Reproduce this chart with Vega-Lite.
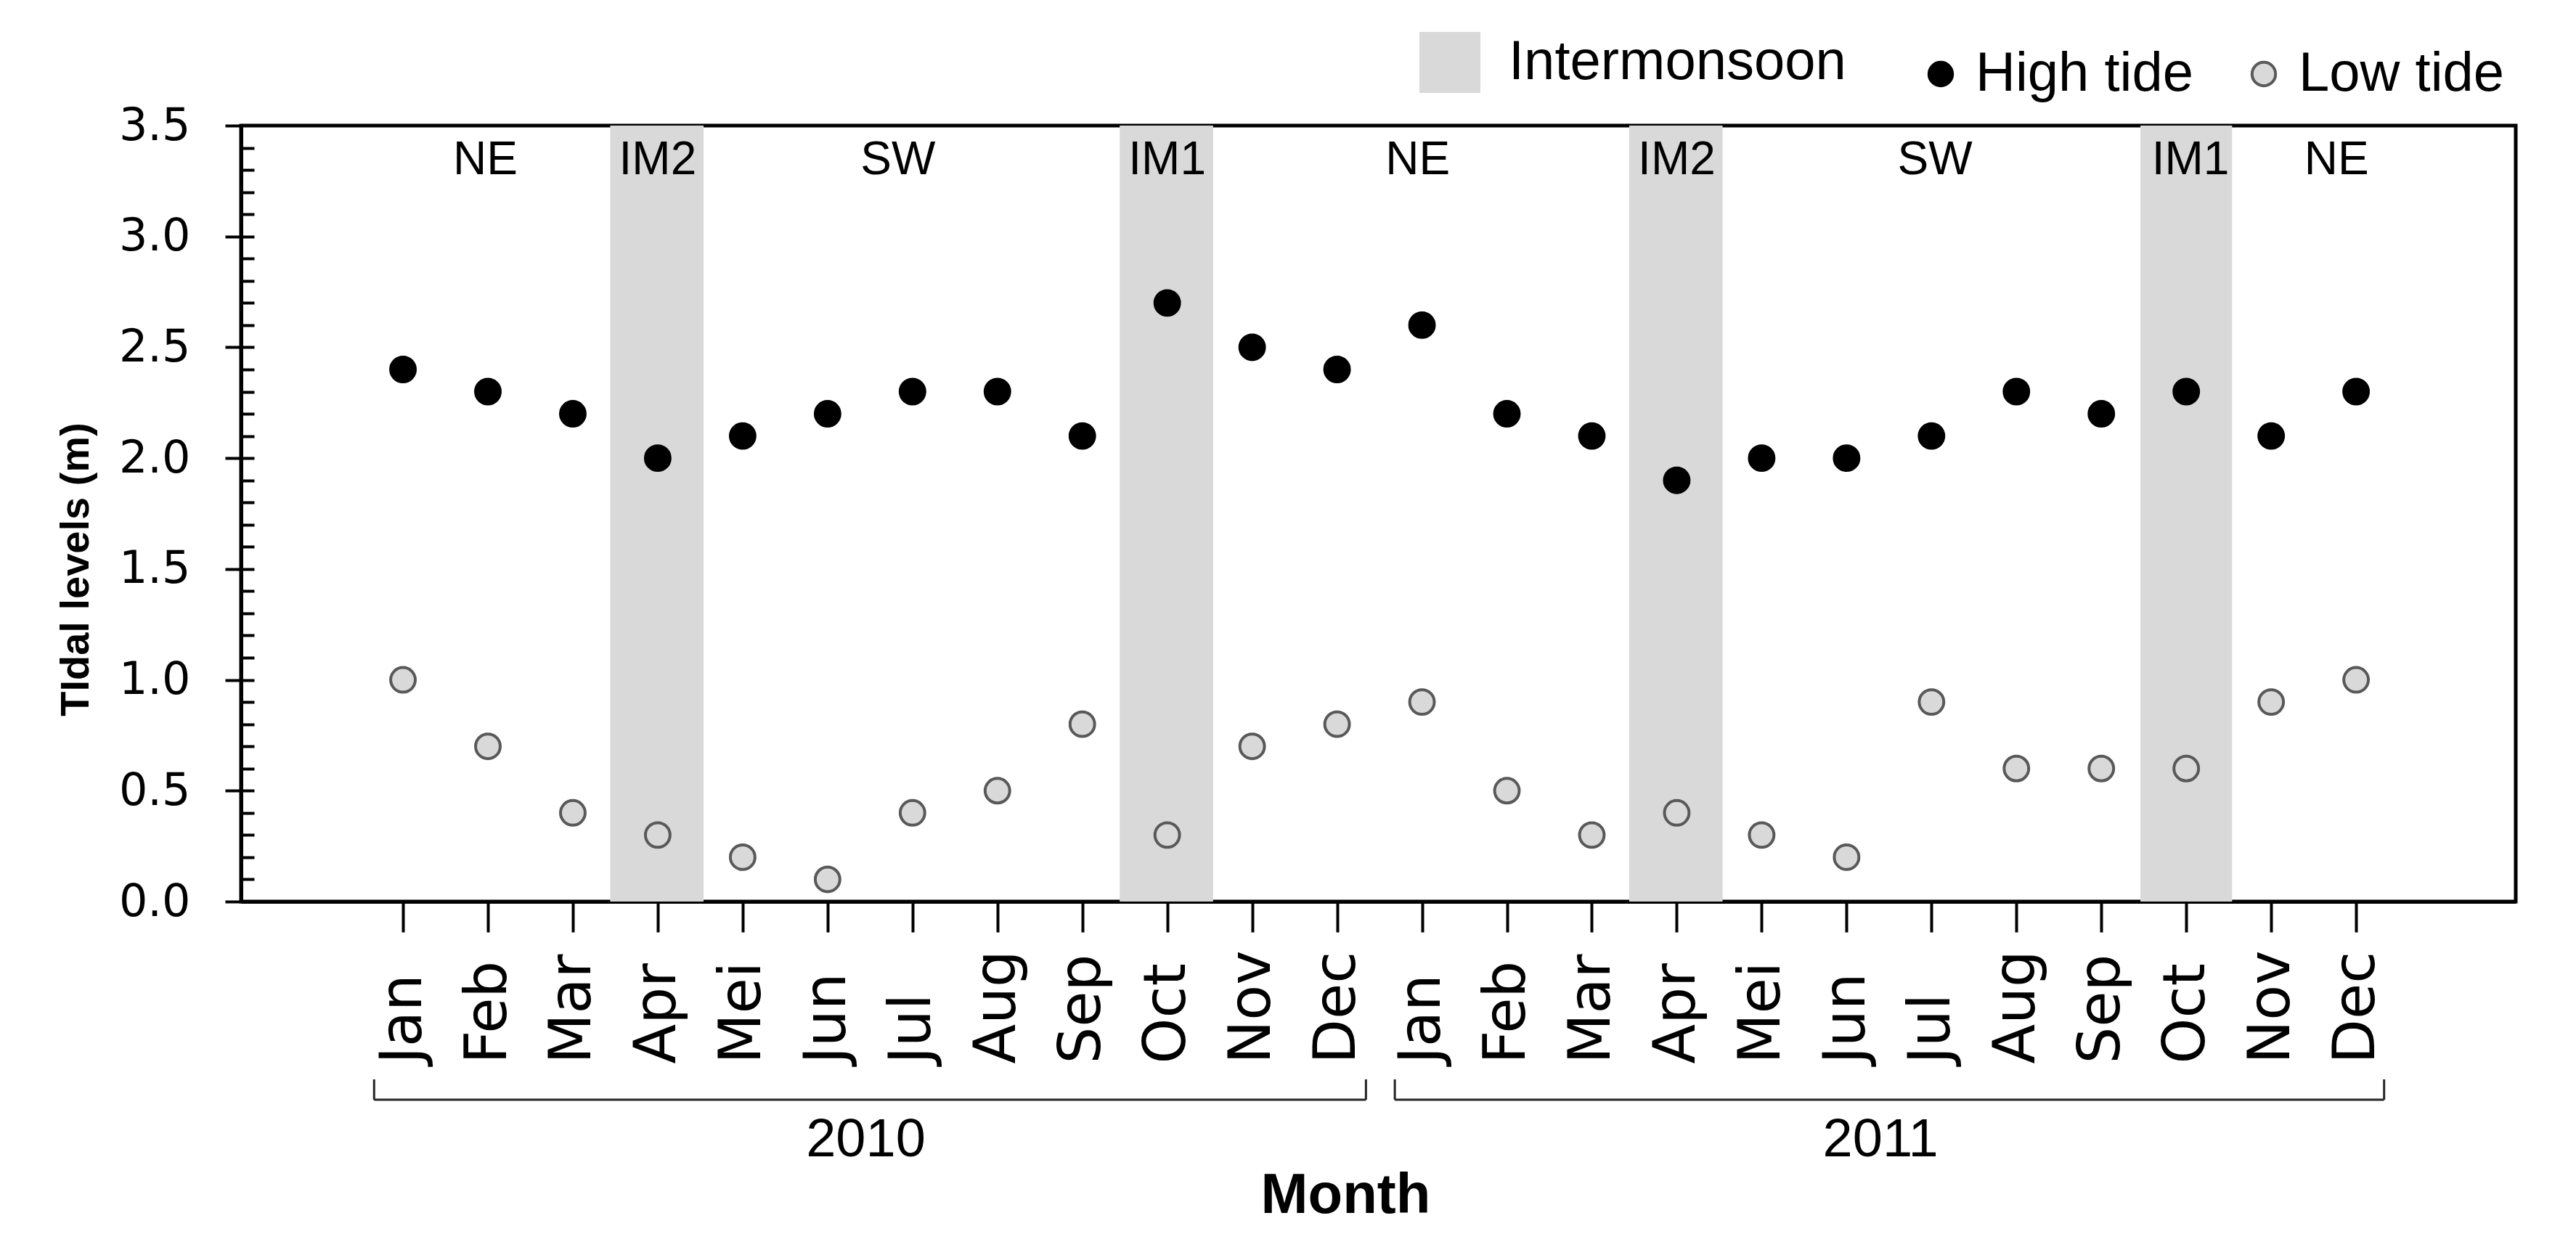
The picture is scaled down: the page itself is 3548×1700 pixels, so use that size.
{
  "$schema": "https://vega.github.io/schema/vega-lite/v6.json",
  "width": 3133,
  "height": 1069,
  "autosize": {"type": "none"},
  "padding": {"left": 332, "top": 173, "right": 83, "bottom": 458},
  "background": "white",
  "config": {
    "view": {"stroke": "black", "strokeWidth": 5},
    "font": "Liberation Sans",
    "axis": {"domainColor": "black", "tickColor": "black", "labelColor": "black", "titleColor": "black", "grid": false}
  },
  "datasets": {
    "tides": [
      {"idx": 1, "month": "Jan", "year": 2010, "series": "High tide", "value": 2.4},
      {"idx": 2, "month": "Feb", "year": 2010, "series": "High tide", "value": 2.3},
      {"idx": 3, "month": "Mar", "year": 2010, "series": "High tide", "value": 2.2},
      {"idx": 4, "month": "Apr", "year": 2010, "series": "High tide", "value": 2.0},
      {"idx": 5, "month": "Mei", "year": 2010, "series": "High tide", "value": 2.1},
      {"idx": 6, "month": "Jun", "year": 2010, "series": "High tide", "value": 2.2},
      {"idx": 7, "month": "Jul", "year": 2010, "series": "High tide", "value": 2.3},
      {"idx": 8, "month": "Aug", "year": 2010, "series": "High tide", "value": 2.3},
      {"idx": 9, "month": "Sep", "year": 2010, "series": "High tide", "value": 2.1},
      {"idx": 10, "month": "Oct", "year": 2010, "series": "High tide", "value": 2.7},
      {"idx": 11, "month": "Nov", "year": 2010, "series": "High tide", "value": 2.5},
      {"idx": 12, "month": "Dec", "year": 2010, "series": "High tide", "value": 2.4},
      {"idx": 13, "month": "Jan", "year": 2011, "series": "High tide", "value": 2.6},
      {"idx": 14, "month": "Feb", "year": 2011, "series": "High tide", "value": 2.2},
      {"idx": 15, "month": "Mar", "year": 2011, "series": "High tide", "value": 2.1},
      {"idx": 16, "month": "Apr", "year": 2011, "series": "High tide", "value": 1.9},
      {"idx": 17, "month": "Mei", "year": 2011, "series": "High tide", "value": 2.0},
      {"idx": 18, "month": "Jun", "year": 2011, "series": "High tide", "value": 2.0},
      {"idx": 19, "month": "Jul", "year": 2011, "series": "High tide", "value": 2.1},
      {"idx": 20, "month": "Aug", "year": 2011, "series": "High tide", "value": 2.3},
      {"idx": 21, "month": "Sep", "year": 2011, "series": "High tide", "value": 2.2},
      {"idx": 22, "month": "Oct", "year": 2011, "series": "High tide", "value": 2.3},
      {"idx": 23, "month": "Nov", "year": 2011, "series": "High tide", "value": 2.1},
      {"idx": 24, "month": "Dec", "year": 2011, "series": "High tide", "value": 2.3},
      {"idx": 1, "month": "Jan", "year": 2010, "series": "Low tide", "value": 1.0},
      {"idx": 2, "month": "Feb", "year": 2010, "series": "Low tide", "value": 0.7},
      {"idx": 3, "month": "Mar", "year": 2010, "series": "Low tide", "value": 0.4},
      {"idx": 4, "month": "Apr", "year": 2010, "series": "Low tide", "value": 0.3},
      {"idx": 5, "month": "Mei", "year": 2010, "series": "Low tide", "value": 0.2},
      {"idx": 6, "month": "Jun", "year": 2010, "series": "Low tide", "value": 0.1},
      {"idx": 7, "month": "Jul", "year": 2010, "series": "Low tide", "value": 0.4},
      {"idx": 8, "month": "Aug", "year": 2010, "series": "Low tide", "value": 0.5},
      {"idx": 9, "month": "Sep", "year": 2010, "series": "Low tide", "value": 0.8},
      {"idx": 10, "month": "Oct", "year": 2010, "series": "Low tide", "value": 0.3},
      {"idx": 11, "month": "Nov", "year": 2010, "series": "Low tide", "value": 0.7},
      {"idx": 12, "month": "Dec", "year": 2010, "series": "Low tide", "value": 0.8},
      {"idx": 13, "month": "Jan", "year": 2011, "series": "Low tide", "value": 0.9},
      {"idx": 14, "month": "Feb", "year": 2011, "series": "Low tide", "value": 0.5},
      {"idx": 15, "month": "Mar", "year": 2011, "series": "Low tide", "value": 0.3},
      {"idx": 16, "month": "Apr", "year": 2011, "series": "Low tide", "value": 0.4},
      {"idx": 17, "month": "Mei", "year": 2011, "series": "Low tide", "value": 0.3},
      {"idx": 18, "month": "Jun", "year": 2011, "series": "Low tide", "value": 0.2},
      {"idx": 19, "month": "Jul", "year": 2011, "series": "Low tide", "value": 0.9},
      {"idx": 20, "month": "Aug", "year": 2011, "series": "Low tide", "value": 0.6},
      {"idx": 21, "month": "Sep", "year": 2011, "series": "Low tide", "value": 0.6},
      {"idx": 22, "month": "Oct", "year": 2011, "series": "Low tide", "value": 0.6},
      {"idx": 23, "month": "Nov", "year": 2011, "series": "Low tide", "value": 0.9},
      {"idx": 24, "month": "Dec", "year": 2011, "series": "Low tide", "value": 1.0}
    ],
    "bands": [
      {"kind": "Intermonsoon", "start": 3.44, "end": 4.54},
      {"kind": "Intermonsoon", "start": 9.44, "end": 10.54},
      {"kind": "Intermonsoon", "start": 15.44, "end": 16.54},
      {"kind": "Intermonsoon", "start": 21.46, "end": 22.54}
    ],
    "seasons": [
      {"season": "NE", "pos": 1.97},
      {"season": "IM2", "pos": 4.0},
      {"season": "SW", "pos": 6.83},
      {"season": "IM1", "pos": 10.0},
      {"season": "NE", "pos": 12.95},
      {"season": "IM2", "pos": 16.0},
      {"season": "SW", "pos": 19.04},
      {"season": "IM1", "pos": 22.05},
      {"season": "NE", "pos": 23.77}
    ],
    "years": [
      {"year": "2010", "from": 0.66, "to": 12.34, "mid": 6.45},
      {"year": "2011", "from": 12.68, "to": 24.33, "mid": 18.4}
    ]
  },
  "resolve": {"axis": {"x": "independent", "y": "independent"}},
  "layer": [
    {
      "data": {"name": "bands"},
      "mark": {"type": "rect"},
      "encoding": {
        "x": {"field": "start", "type": "quantitative", "scale": {"domain": [-0.907, 25.88], "nice": false, "zero": false}, "axis": null},
        "x2": {"field": "end"},
        "y": {"datum": 0, "type": "quantitative", "scale": {"domain": [0, 3.5], "nice": false, "zero": false}, "axis": null},
        "y2": {"datum": 3.5},
        "fill": {
          "field": "kind", "type": "nominal",
          "scale": {"range": ["#d9d9d9"]},
          "legend": {"orient": "none", "legendX": 1623, "legendY": -129, "title": null, "symbolType": "square", "symbolSize": 7056, "symbolStrokeWidth": 0, "labelFont": "Liberation Sans", "labelFontSize": 76, "labelOffset": 39, "labelLimit": 1000, "padding": 0, "labelColor": "black"}
        }
      }
    },
    {
      "data": {"name": "tides"},
      "mark": {"type": "point", "opacity": 0},
      "encoding": {
        "x": {"field": "idx", "type": "quantitative", "axis": null},
        "y": {"field": "value", "type": "quantitative", "axis": {"orient": "left", "values": [0.1,0.2,0.3,0.4,0.5,0.6,0.7,0.8,0.9,1.0,1.1,1.2,1.3,1.4,1.5,1.6,1.7,1.8,1.9,2.0,2.1,2.2,2.3,2.4,2.5,2.6,2.7,2.8,2.9,3.0,3.1,3.2,3.3,3.4], "labels": false, "domain": false, "tickSize": -18, "tickWidth": 4, "title": null, "grid": false}}
      }
    },
    {
      "data": {"name": "tides"},
      "mark": {"type": "point", "filled": true, "size": 1150, "strokeWidth": 4, "opacity": 1},
      "encoding": {
        "x": {"field": "idx", "type": "quantitative", "axis": {"orient": "bottom", "values": [1,2,3,4,5,6,7,8,9,10,11,12,13,14,15,16,17,18,19,20,21,22,23,24], "labelExpr": "['Jan','Feb','Mar','Apr','Mei','Jun','Jul','Aug','Sep','Oct','Nov','Dec'][(datum.value-1)%12]", "labelAngle": 270, "labelAlign": "left", "labelBaseline": "middle", "labelFont": "DejaVu Sans", "labelFontSize": 80, "labelPadding": 181, "labelOverlap": false, "labelFlush": false, "labelBound": false, "tickSize": 42, "tickWidth": 4, "domainWidth": 5, "title": "Month", "titleFont": "Liberation Sans", "titleFontWeight": "bold", "titleFontSize": 78, "titleX": 1521, "titleY": 428, "titleAlign": "center", "titleBaseline": "alphabetic", "grid": false}},
        "y": {"field": "value", "type": "quantitative", "axis": {"orient": "left", "values": [0,0.5,1,1.5,2,2.5,3,3.5], "format": ".1f", "labelFont": "DejaVu Sans", "labelFontSize": 62, "labelPadding": 48, "tickSize": 22, "tickWidth": 4, "domainWidth": 5, "labelFlush": false, "labelOverlap": false, "title": "TIdal levels (m)", "titleFont": "Liberation Sans", "titleFontWeight": "bold", "titleFontSize": 56, "titleAngle": 270, "titleX": -228, "titleY": 611, "titleAlign": "center", "titleBaseline": "middle", "grid": false}},
        "color": {
          "field": "series", "type": "nominal",
          "scale": {"domain": ["High tide", "Low tide"], "range": ["black", "#d9d9d9"]},
          "legend": {"orient": "none", "legendX": 2303, "legendY": -109, "title": null, "direction": "horizontal", "symbolType": "circle", "symbolSize": 1050, "symbolStrokeWidth": 4, "labelFont": "Liberation Sans", "labelFontSize": 76, "labelOffset": 10, "columnPadding": 59, "labelLimit": 1000, "padding": 0, "labelColor": "black"}
        },
        "stroke": {
          "field": "series", "type": "nominal",
          "scale": {"domain": ["High tide", "Low tide"], "range": ["black", "#595959"]}
        }
      }
    },
    {
      "data": {"name": "seasons"},
      "mark": {"type": "text", "font": "Liberation Sans", "fontSize": 64, "baseline": "alphabetic", "align": "center", "color": "black"},
      "encoding": {
        "x": {"field": "pos", "type": "quantitative", "axis": null},
        "y": {"datum": 3.28, "type": "quantitative", "axis": null},
        "text": {"field": "season"}
      }
    },
    {
      "data": {"name": "years"},
      "mark": {"type": "rule", "color": "#262626", "strokeWidth": 3},
      "encoding": {
        "x": {"field": "from", "type": "quantitative", "axis": null},
        "x2": {"field": "to"},
        "y": {"datum": -0.894, "type": "quantitative", "axis": null}
      }
    },
    {
      "data": {"name": "years"},
      "mark": {"type": "rule", "color": "#262626", "strokeWidth": 3},
      "encoding": {
        "x": {"field": "from", "type": "quantitative", "axis": null},
        "y": {"datum": -0.894, "type": "quantitative", "axis": null},
        "y2": {"datum": -0.802}
      }
    },
    {
      "data": {"name": "years"},
      "mark": {"type": "rule", "color": "#262626", "strokeWidth": 3},
      "encoding": {
        "x": {"field": "to", "type": "quantitative", "axis": null},
        "y": {"datum": -0.894, "type": "quantitative", "axis": null},
        "y2": {"datum": -0.802}
      }
    },
    {
      "data": {"name": "years"},
      "mark": {"type": "text", "font": "Liberation Sans", "fontSize": 74, "baseline": "middle", "align": "center", "color": "black"},
      "encoding": {
        "x": {"field": "mid", "type": "quantitative", "axis": null},
        "y": {"datum": -1.077, "type": "quantitative", "axis": null},
        "text": {"field": "year"}
      }
    }
  ]
}
